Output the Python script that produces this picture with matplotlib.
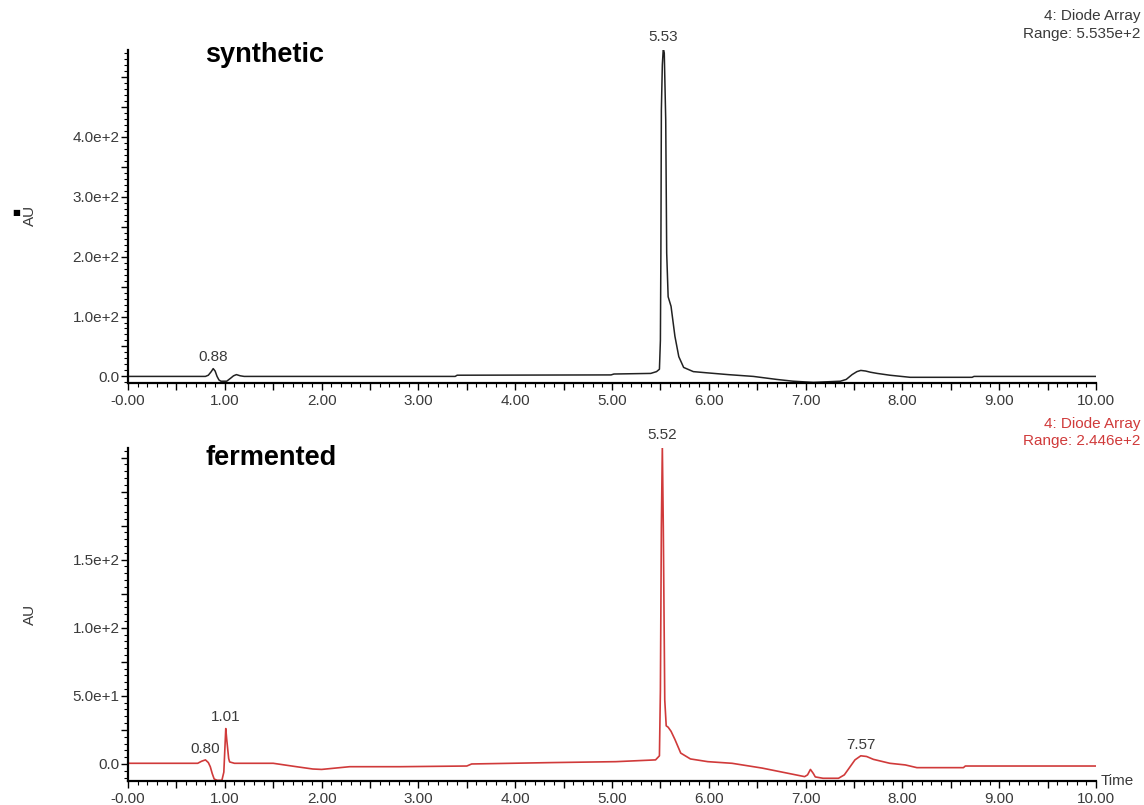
import numpy as np
import matplotlib
matplotlib.use('Agg')
import matplotlib.pyplot as plt
from matplotlib.ticker import MultipleLocator

plt.rcParams['font.family'] = ['Liberation Sans', 'DejaVu Sans']

# synthetic sample trace (time in min, AU)
syn_time = [0.00, 0.80, 0.83, 0.86, 0.88, 0.90, 0.92, 0.94, 0.96, 1.02, 1.06,
            1.09, 1.12, 1.16, 1.20, 3.38, 3.40, 4.99, 5.02, 5.40, 5.46, 5.49,
            5.50, 5.505, 5.51, 5.52, 5.53, 5.54, 5.555, 5.565, 5.58, 5.61,
            5.65, 5.69, 5.74, 5.84, 5.98, 6.20, 6.46, 6.70, 6.87, 7.08, 7.36,
            7.42, 7.48, 7.53, 7.57, 7.62, 7.67, 7.74, 7.87, 8.08, 8.72, 8.74,
            10.00]
syn_au = [0, 0, 2, 8, 13, 9, 0, -6, -8, -8, -3,
          1, 3, 1, 0, 0, 2, 2.5, 4, 5, 8, 12,
          60, 206, 445, 520, 548, 540, 428, 206, 133, 117,
          67, 33, 15, 8, 6, 3, 0, -5, -8, -10, -8,
          -5, 3, 8, 10, 9, 7, 5, 2, -1.5, -1.5, 0,
          0]
syn_peaks = [0.88, 5.53]

# fermented sample trace
fer_time = [0.00, 0.72, 0.76, 0.80, 0.83, 0.85, 0.87, 0.89, 0.92, 0.97, 0.99,
            1.00, 1.01, 1.02, 1.04, 1.05, 1.10, 1.50, 1.74, 1.91, 2.00, 2.29,
            2.81, 3.50, 3.55, 4.36, 5.04, 5.45, 5.49, 5.50, 5.51, 5.52, 5.53,
            5.545, 5.56, 5.58, 5.61, 5.65, 5.71, 5.81, 5.99, 6.24, 6.55, 6.99,
            7.02, 7.05, 7.08, 7.10, 7.18, 7.34, 7.40, 7.46, 7.51, 7.57, 7.63,
            7.70, 7.87, 8.03, 8.15, 8.63, 8.65, 10.00]
fer_au = [0.5, 0.5, 2, 3, 1, -2, -7, -11, -12, -12, -6,
          10, 26, 18, 4, 1.5, 0.5, 0.5, -2, -3.7, -4, -2,
          -2, -1.5, 0, 1, 1.7, 3, 6, 54, 174, 233, 174,
          47, 28, 27, 24, 18, 8, 3.7, 1.7, 0.5, -3, -9.3,
          -8, -4, -7, -9.5, -10.5, -10.5, -8, -2, 3, 6, 5.5,
          3.4, 0.5, -0.7, -2.7, -2.7, -1.5, -1.5]
fer_peaks = [0.80, 1.01, 5.52, 7.57]

W, H = 1144, 805
fig = plt.figure(figsize=(W / 100, H / 100), dpi=100)
gray = '#3a3a3a'
red = '#d03a3a'
fs = 11


def ylab(v):
    if v == 0:
        return '0.0'
    return ('%.1e' % v).replace('e+0', 'e+')


def setup(ax, ylim, labeled, mid, minor):
    ax.set_xlim(0, 10)
    ax.set_ylim(*ylim)
    for s in ['top', 'right']:
        ax.spines[s].set_visible(False)
    for s in ['left', 'bottom']:
        ax.spines[s].set_linewidth(1.6)
    # x ticks
    xt = np.arange(0, 10.01, 0.5)
    ax.set_xticks(xt)
    ax.set_xticklabels(['-0.00' if v == 0 else ('%.2f' % v if v % 1 == 0 else '')
                        for v in xt])
    ax.xaxis.set_minor_locator(MultipleLocator(0.1))
    # y ticks
    yt = np.arange(0, ylim[1], mid)
    ax.set_yticks(yt)
    ax.set_yticklabels([ylab(v) if v in labeled else '' for v in yt])
    ax.yaxis.set_minor_locator(MultipleLocator(minor))
    ax.tick_params(which='major', length=5, width=1, color='black',
                   labelsize=fs, labelcolor=gray, pad=1)
    ax.tick_params(axis='x', which='major', pad=3)
    ax.tick_params(which='minor', length=3, width=0.8, color='black')


# top panel
ax1 = fig.add_axes([128 / W, 1 - 383 / H, 968 / W, 333 / H])
ax1.plot(syn_time, syn_au, color='#222222', lw=1.1)
setup(ax1, (-11, 545), [0, 100, 200, 300, 400], 50, 10)
for p in syn_peaks:
    ax1.annotate('%.2f' % p, (p, np.interp(p, syn_time, syn_au)),
                 xytext=(0, 3), textcoords='offset points', ha='center',
                 va='bottom', fontsize=fs, color=gray, annotation_clip=False)
ax1.text(205 / W, 1 - 55 / H, 'synthetic', transform=fig.transFigure,
         fontsize=19.5, fontweight='bold', va='center')

# bottom panel
ax2 = fig.add_axes([128 / W, 1 - 781 / H, 968 / W, 333 / H])
ax2.plot(fer_time, fer_au, color=red, lw=1.2)
setup(ax2, (-12.5, 232), [0, 50, 100, 150], 25, 5)
for p in fer_peaks:
    ax2.annotate('%.2f' % p, (p, np.interp(p, fer_time, fer_au)),
                 xytext=(0, 3), textcoords='offset points', ha='center',
                 va='bottom', fontsize=fs, color=gray, annotation_clip=False)
ax2.text(205 / W, 1 - 458 / H, 'fermented', transform=fig.transFigure,
         fontsize=19.5, fontweight='bold', va='center')

# headers and axis labels
fig.text(1140 / W, 1 - 16 / H, '4: Diode Array', ha='right', va='center',
         fontsize=fs, color=gray)
fig.text(1140 / W, 1 - 34 / H, 'Range: 5.535e+2', ha='right', va='center',
         fontsize=fs, color=gray)
fig.text(1140 / W, 1 - 424 / H, '4: Diode Array', ha='right', va='center',
         fontsize=fs, color=red)
fig.text(1140 / W, 1 - 441 / H, 'Range: 2.446e+2', ha='right', va='center',
         fontsize=fs, color=red)
fig.text(1101 / W, 1 - 781 / H, 'Time', ha='left', va='center',
         fontsize=fs, color=gray)
fig.text(30 / W, 1 - 215 / H, 'AU', rotation=90, ha='center', va='center',
         fontsize=fs, color=gray)
fig.text(16 / W, 1 - 213 / H, '\u25a0', ha='center', va='center',
         fontsize=6, color='black', family='DejaVu Sans')
fig.text(30 / W, 1 - 614 / H, 'AU', rotation=90, ha='center', va='center',
         fontsize=fs, color=gray)

fig.savefig('out.png', dpi=100)
